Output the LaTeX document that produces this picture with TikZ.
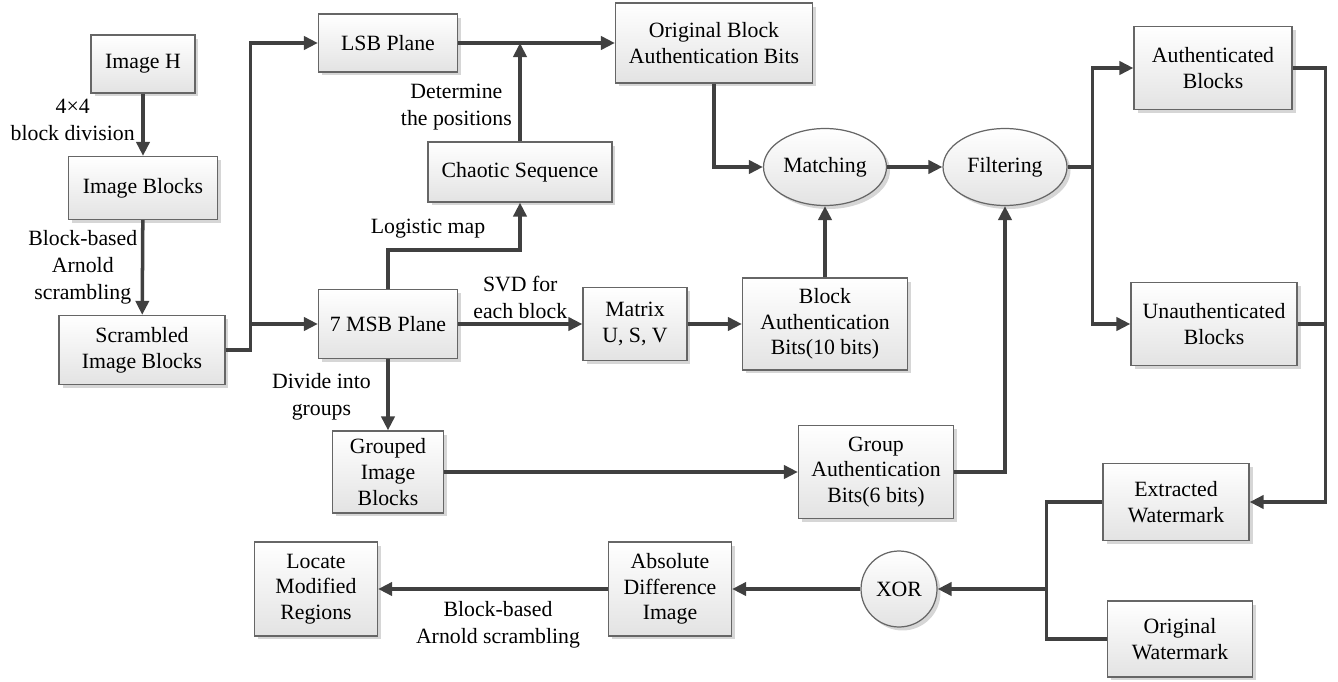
\documentclass[tikz,border=0pt]{standalone}
\usepackage{fontspec}
\setmainfont{Liberation Serif}
\newfontfamily\diagfont{Liberation Serif}
\usepackage{tikz}
\usetikzlibrary{arrows.meta, positioning, shapes, shadows, calc}

\tikzset{
  block/.style={draw=black!60, line width=0.7pt, rectangle, inner sep=0pt, align=center,
    top color=white, bottom color=black!11,
    drop shadow={fill=black!16, opacity=1, shadow xshift=0.07cm, shadow yshift=-0.07cm},
    font=\diagfont\fontsize{12.4}{14.6}\selectfont},
  oval/.style={block, ellipse},
  lbl/.style={align=center, inner sep=2pt, font=\diagfont\fontsize{12.4}{15.4}\selectfont},
  line/.style={draw=black!75, line width=2pt},
  arr/.style={line, -{Triangle[length=8pt, width=7.5pt]}}
}

\begin{document}
\begin{tikzpicture}[x=0.02cm, y=-0.02cm]
    \useasboundingbox (0,0) rectangle (1338,682);

    % Nodes
    \node (imgH) [block, minimum width=2.08cm, minimum height=1.16cm] at (143,64) {Image H};
    \node (imgB) [block, minimum width=2.98cm, minimum height=1.26cm] at (143,188) {Image Blocks};
    \node (scr) [block, minimum width=3.32cm, minimum height=1.38cm] at (142,350) {Scrambled\\Image Blocks};
    \node (lsb) [block, minimum width=2.78cm, minimum height=1.16cm] at (388,43) {LSB Plane};
    \node (msb) [block, minimum width=2.78cm, minimum height=1.38cm] at (388,324) {7 MSB Plane};
    \node (chaos) [block, minimum width=3.68cm, minimum height=1.2cm] at (520,172) {Chaotic Sequence};
    \node (oba) [block, minimum width=3.94cm, minimum height=1.6cm] at (714,43) {Original Block\\Authentication Bits};
    \node (mat) [block, minimum width=2.08cm, minimum height=1.46cm] at (635,324) {Matrix\\U, S, V};
    \node (bab) [block, minimum width=3.3cm, minimum height=1.84cm] at (825,324) {Block\\Authentication\\Bits(10 bits)};
    \node (match) [oval, minimum width=2.46cm, minimum height=1.54cm] at (825,167) {Matching};
    \node (filt) [oval, minimum width=2.48cm, minimum height=1.54cm] at (1005,167) {Filtering};
    \node (auth) [block, minimum width=3.16cm, minimum height=1.66cm] at (1213,68) {Authenticated\\Blocks};
    \node (unauth) [block, minimum width=3.32cm, minimum height=1.66cm] at (1214,324) {Unauthenticated\\Blocks};
    \node (grp) [block, minimum width=2.22cm, minimum height=1.64cm] at (388,472) {Grouped\\Image\\Blocks};
    \node (gab) [block, minimum width=3.1cm, minimum height=1.86cm] at (876,472) {Group\\Authentication\\Bits(6 bits)};
    \node (ext) [block, minimum width=2.92cm, minimum height=1.54cm] at (1176,502) {Extracted\\Watermark};
    \node (orig) [block, minimum width=2.9cm, minimum height=1.52cm] at (1180,639) {Original\\Watermark};
    \node (xor) [block, circle, minimum size=1.52cm] at (899,589) {XOR};
    \node (abs) [block, minimum width=2.46cm, minimum height=1.88cm] at (670,589) {Absolute\\Difference\\Image};
    \node (loc) [block, minimum width=2.46cm, minimum height=1.88cm] at (316,589) {Locate\\Modified\\Regions};
    \node (logmap) [lbl] at (428,229) {Logistic map};

    % Arrows
    \draw[arr] (imgH) -- node[lbl, left, xshift=-0.06cm, yshift=0.1cm] {4×4\\block division} (imgB);
    \draw[arr] (imgB) -- node[lbl, left] {Block-based\\Arnold\\scrambling} (scr);
    \draw[arr] (scr.east) -- ++(25,0) |- (lsb.west);
    \draw[arr] (scr.east) -- ++(25,0) |- (msb.west);
    \draw[arr] (lsb) -- (oba);
    \draw[arr] (chaos) -- node[lbl, left, pos=0.35, xshift=-0.06cm] {Determine\\the positions} (chaos |- lsb.east);
    \draw[arr] (msb.north) -- ++(0,-39) -| (chaos.south);
    \draw[arr] (msb) -- node[lbl, above] {SVD for\\each block} (mat);
    \draw[arr] (mat) -- (bab);
    \draw[arr] (bab) -- (match);
    \draw[arr] (oba.south) |- (match.west);
    \draw[arr] (match) -- (filt);
    \draw[arr] (filt.east) -- ++(25,0) |- (auth.west);
    \draw[arr] (filt.east) -- ++(25,0) |- (unauth.west);
    \draw[arr] (auth.east) -- ++(33,0) coordinate (jr) |- (ext.east);
    \draw[line] (unauth.east) -- (unauth.east -| jr);
    \draw[arr] (msb) -- node[lbl, left, xshift=-0.24cm, yshift=-0.05cm] {Divide into\\groups} (grp);
    \draw[arr] (grp) -- (gab);
    \draw[arr] (gab.east) -| (filt.south);
    \draw[line] (ext.west) -- ++(-56,0) coordinate (jl) |- (orig.west);
    \draw[arr] (xor.east -| jl) -- (xor.east);
    \draw[arr] (xor) -- (abs);
    \draw[arr] (abs) -- node[lbl, below, xshift=0.1cm, yshift=-0.14cm] {Block-based\\Arnold scrambling} (loc);
\end{tikzpicture}
\end{document}
